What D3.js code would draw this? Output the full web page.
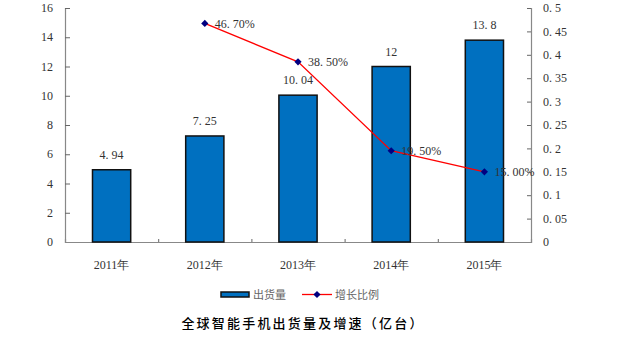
<!DOCTYPE html>
<html><head><meta charset="utf-8">
<script src="https://cdn.jsdelivr.net/npm/d3@7"></script>
<style>body{margin:0;background:#fff}svg{display:block}</style>
</head><body>
<svg id="c" width="622" height="340"></svg>
<script>
const categories = ["2011年","2012年","2013年","2014年","2015年"];
const shipments = [4.94, 7.25, 10.04, 12, 13.8];
const shipmentLabels = ["4.94","7.25","10.04","12","13.8"];
const growthCats = ["2012年","2013年","2014年","2015年"];
const growth = [0.467, 0.385, 0.195, 0.15];
const growthLabels = ["46.70%","38.50%","19.50%","15.00%"];
const leftTicks = [0,2,4,6,8,10,12,14,16];
const rightTicks = [0,0.05,0.1,0.15,0.2,0.25,0.3,0.35,0.4,0.45,0.5];
const legendNames = ["出货量","增长比例"];
const title = "全球智能手机出货量及增速（亿台）";

const svg = d3.select("#c");
const L = 65, R = 531, T = 8, B = 242;
const serif = "'Liberation Serif','DejaVu Serif',serif";
const txt = "#333";

const x = d3.scaleBand().domain(categories).range([L, R]).paddingInner(0.59).paddingOuter(0.295);
const yL = d3.scaleLinear().domain([0,16]).range([B, T]);
const yR = d3.scaleLinear().domain([0,0.5]).range([B, T]);

const axL = svg.append("g").attr("transform",`translate(${L},0)`)
  .call(d3.axisRight(yL).tickValues(leftTicks).tickSize(5).tickFormat(""));
const axR = svg.append("g").attr("transform",`translate(${R},0)`)
  .call(d3.axisLeft(yR).tickValues(rightTicks).tickSize(4).tickFormat(""));
[axL, axR].forEach(a=>{a.select(".domain").attr("stroke","#888").attr("stroke-width",1.2);a.selectAll("line").attr("stroke","#666");});

svg.append("g").selectAll("text").data(leftTicks).join("text")
  .attr("x", L-12).attr("y", d=>yL(d)).attr("dy","0.35em").attr("text-anchor","end")
  .attr("font-family",serif).attr("font-size",12).attr("fill",txt).text(d=>d);
svg.append("g").selectAll("text").data(rightTicks).join("text")
  .attr("x", R+12).attr("y", d=>yR(d)).attr("dy","0.35em").attr("text-anchor","start")
  .attr("font-family",serif).attr("font-size",12).attr("fill",txt)
  .text(d=>d===0?"0":String(d).replace(".",". "));

const xb = svg.append("g").attr("transform",`translate(0,${B})`)
  .call(d3.axisTop(d3.scaleLinear().domain([0,5]).range([L,R])).tickValues([1,2,3,4]).tickSize(3).tickFormat(""));
xb.select(".domain").attr("stroke","#888").attr("stroke-width",1.2);
xb.selectAll("line").attr("stroke","#666");

svg.append("g").selectAll("text").data(categories).join("text")
  .attr("x", d=>x(d)+x.bandwidth()/2).attr("y", 269).attr("text-anchor","middle")
  .attr("font-family",serif).attr("font-size",12).attr("fill",txt).text(d=>d);

svg.append("g").selectAll("rect").data(shipments).join("rect")
  .attr("x",(d,i)=>x(categories[i])).attr("width",x.bandwidth())
  .attr("y",d=>yL(d)).attr("height",d=>B-yL(d))
  .attr("fill","#0070C0").attr("stroke","#111").attr("stroke-width",1.5);
svg.append("g").selectAll("text").data(shipments).join("text")
  .attr("x",(d,i)=>x(categories[i])+x.bandwidth()/2).attr("y",d=>yL(d)-11)
  .attr("text-anchor","middle").attr("font-family",serif).attr("font-size",12).attr("fill",txt)
  .text((d,i)=>shipmentLabels[i].replace(".",". "));

const cx = c => x(c)+x.bandwidth()/2;
const line = d3.line().x((d,i)=>cx(growthCats[i])).y(d=>yR(d));
svg.append("path").datum(growth).attr("d",line).attr("fill","none").attr("stroke","#FF0000").attr("stroke-width",1.3);
const diamond = d3.symbol(d3.symbolSquare,26);
svg.append("g").selectAll("path").data(growth).join("path")
  .attr("d",diamond)
  .attr("transform",(d,i)=>`translate(${cx(growthCats[i])},${yR(d)}) rotate(45)`).attr("fill","#000080");
svg.append("g").selectAll("text").data(growth).join("text")
  .attr("x",(d,i)=>cx(growthCats[i])+10).attr("y",d=>yR(d)).attr("dy","0.35em")
  .attr("font-family",serif).attr("font-size",12).attr("fill",txt)
  .text((d,i)=>growthLabels[i].replace(".",". "));

const lg = svg.append("g");
lg.append("rect").attr("x",221).attr("y",292).attr("width",28).attr("height",5)
  .attr("fill","#0070C0").attr("stroke","#111").attr("stroke-width",1.5);
lg.append("text").attr("x",253).attr("y",295).attr("dy","0.35em").attr("font-family","'Noto Sans CJK SC'")
  .attr("font-size",11).attr("fill","#666").text(legendNames[0]);
lg.append("line").attr("x1",302).attr("x2",332).attr("y1",294.5).attr("y2",294.5).attr("stroke","#FF0000").attr("stroke-width",1.3);
lg.append("path").attr("d",diamond).attr("transform","translate(317,294.5) rotate(45)").attr("fill","#000080");
lg.append("text").attr("x",335).attr("y",295).attr("dy","0.35em").attr("font-family","'Noto Sans CJK SC'")
  .attr("font-size",11).attr("fill","#666").text(legendNames[1]);

svg.append("text").attr("x",303).attr("y",323).attr("dy","0.35em").attr("text-anchor","middle")
  .attr("font-family","'Noto Sans CJK SC'").attr("font-weight",500).attr("font-size",13).attr("letter-spacing",2.2)
  .attr("fill","#000").text(title);
</script>
</body></html>
